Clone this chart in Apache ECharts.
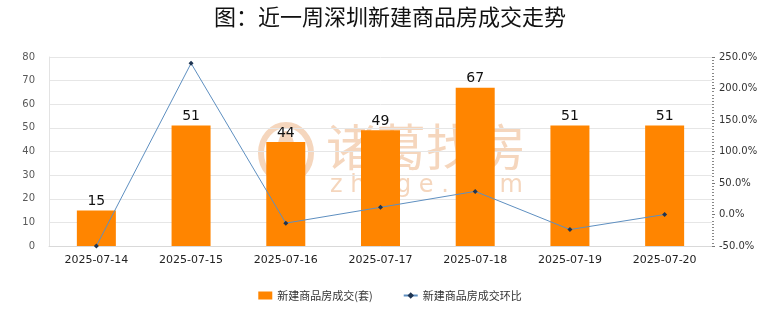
<!DOCTYPE html>
<html>
<head>
<meta charset="utf-8">
<script src="https://cdn.jsdelivr.net/npm/echarts@6/dist/echarts.min.js"></script>
<style>
  html, body { margin: 0; padding: 0; background: #fff; }
  #chart { width: 780px; height: 328px; }
</style>
</head>
<body>
<div id="chart"></div>
<script>
// Weekly new-home transactions in Shenzhen
const categories = ['2025-07-14', '2025-07-15', '2025-07-16', '2025-07-17', '2025-07-18', '2025-07-19', '2025-07-20'];
const units = [15, 51, 44, 49, 67, 51, 51];
const changePct = [-50.0, 240.0, -13.7, 11.4, 36.7, -23.9, 0.0];

const leftTicks = { min: 0, max: 80, interval: 10 };
const rightTicks = { min: -50, max: 250, interval: 50 };

const font = '"Noto Sans CJK SC", "Microsoft YaHei", sans-serif';
const markColor = '#f5d6bd';

const chart = echarts.init(document.getElementById('chart'), null, { renderer: 'canvas' });

chart.setOption({
  backgroundColor: '#ffffff',
  animation: false,
  title: {
    text: '图：近一周深圳新建商品房成交走势',
    left: 'center',
    top: 1,
    textStyle: { fontFamily: font, fontSize: 22, fontWeight: 'normal', color: '#111' }
  },
  graphic: [
    {
      type: 'text',
      left: 326,
      top: 122,
      z: 0,
      style: { text: '诸葛找房', font: '50px "Noto Sans CJK SC", sans-serif', fill: markColor }
    },
    {
      type: 'text',
      left: 330,
      top: 174,
      z: 0,
      style: { text: 'z h u g e . c o m', font: '24px "DejaVu Sans", sans-serif', fill: markColor }
    },
    {
      type: 'ellipse',
      shape: { cx: 286, cy: 153, rx: 25, ry: 28 },
      z: 0,
      style: { fill: 'none', stroke: markColor, lineWidth: 6 }
    },
    {
      type: 'ellipse',
      shape: { cx: 286, cy: 153, rx: 9, ry: 22 },
      z: 0,
      style: { fill: markColor }
    }
  ],
  legend: {
    bottom: 22,
    left: 'center',
    itemGap: 30,
    itemWidth: 14,
    itemHeight: 8,
    textStyle: { fontFamily: font, fontSize: 11, color: '#333' },
    data: [
      { name: '新建商品房成交(套)', icon: 'rect', itemStyle: { color: '#FF8500' } },
      { name: '新建商品房成交环比' }
    ]
  },
  grid: { left: 49, right: 68, top: 57, bottom: 82 },
  xAxis: {
    type: 'category',
    data: categories,
    axisLine: { lineStyle: { color: '#d9d9d9' } },
    axisTick: { show: false },
    axisLabel: { fontFamily: '"DejaVu Sans", sans-serif', fontSize: 11, color: '#222', margin: 9 }
  },
  yAxis: [
    {
      type: 'value',
      min: leftTicks.min,
      max: leftTicks.max,
      interval: leftTicks.interval,
      axisLine: { show: true, lineStyle: { color: '#e3e3e3' } },
      axisTick: { show: false },
      axisLabel: { fontFamily: '"DejaVu Sans", sans-serif', fontSize: 10, color: '#595959', margin: 14 },
      splitLine: { lineStyle: { color: '#e6e6e6' } }
    },
    {
      type: 'value',
      min: rightTicks.min,
      max: rightTicks.max,
      interval: rightTicks.interval,
      position: 'right',
      axisLine: { show: false },
      axisTick: { show: true, length: 3, lineStyle: { color: '#777' } },
      minorTick: { show: true, splitNumber: 10, length: 2, lineStyle: { color: '#888' } },
      axisLabel: {
        fontFamily: '"DejaVu Sans", sans-serif',
        fontSize: 10,
        color: '#333',
        margin: 7,
        formatter: v => v.toFixed(1) + '%'
      },
      splitLine: { show: false }
    }
  ],
  series: [
    {
      name: '新建商品房成交(套)',
      type: 'bar',
      data: units,
      barWidth: 39,
      itemStyle: { color: '#FF8500' },
      label: {
        show: true,
        position: 'top',
        distance: 2,
        fontFamily: '"DejaVu Sans", sans-serif',
        fontSize: 14,
        color: '#111'
      },
      z: 2
    },
    {
      name: '新建商品房成交环比',
      type: 'line',
      yAxisIndex: 1,
      data: changePct,
      symbol: 'diamond',
      symbolSize: 5,
      lineStyle: { color: '#5e8fc0', width: 1 },
      itemStyle: { color: '#1f3552' },
      z: 3
    }
  ]
});
</script>
</body>
</html>
